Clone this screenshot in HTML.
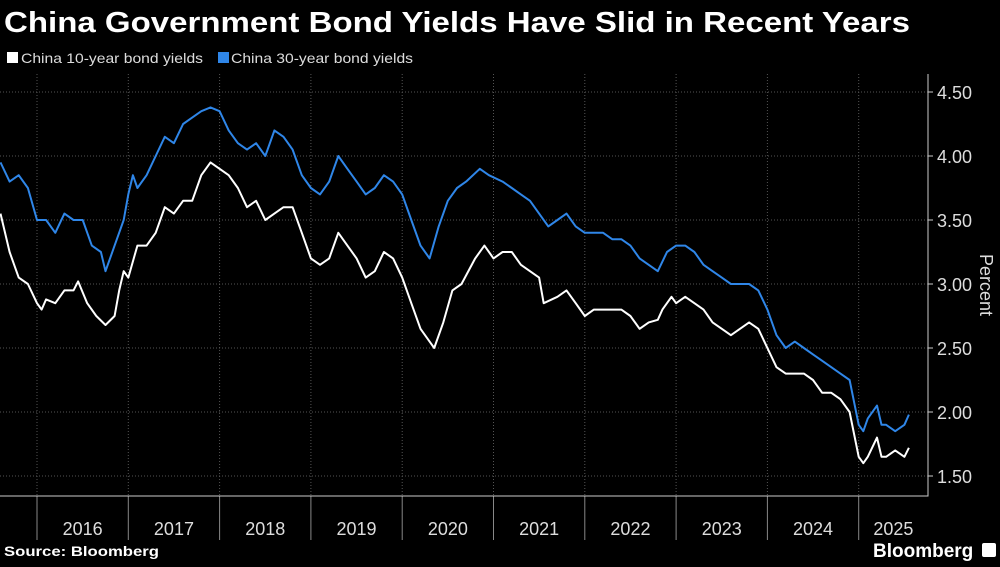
<!DOCTYPE html>
<html><head><meta charset="utf-8"><style>
body{margin:0;background:#000;width:1000px;height:562px;overflow:hidden;font-family:"Liberation Sans",sans-serif;color:#fff}
</style></head><body>
<svg width="1000" height="562">
<text x="4" y="32" font-size="29" font-weight="bold" fill="#fff" textLength="906" lengthAdjust="spacingAndGlyphs">China Government Bond Yields Have Slid in Recent Years</text>
<g>
<rect x="7" y="52" width="11" height="11" fill="#fff"/>
<text x="21" y="63" font-size="14" fill="#ddd" textLength="182" lengthAdjust="spacingAndGlyphs">China 10-year bond yields</text>
<rect x="218" y="52" width="11" height="11" fill="#2f86e8"/>
<text x="231" y="63" font-size="14" fill="#ddd" textLength="182" lengthAdjust="spacingAndGlyphs">China 30-year bond yields</text>
</g>
<g id="grid"></g><g id="axes"></g><g id="series"></g>
<text transform="translate(980,285) rotate(90)" text-anchor="middle" font-size="18" fill="#ddd">Percent</text>
<text x="4" y="556" font-size="14" font-weight="bold" fill="#fff" textLength="155" lengthAdjust="spacingAndGlyphs">Source: Bloomberg</text>
<text x="873" y="557" font-size="19" font-weight="bold" fill="#fff">Bloomberg</text>
<rect x="982" y="543" width="14" height="14" rx="2" fill="#fff"/>
</svg>
<script>
const yTicks=[1.5,2.0,2.5,3.0,3.5,4.0,4.5];
const years=[2016,2017,2018,2019,2020,2021,2022,2023,2024,2025];
const t10=[2015.6,2015.7,2015.8,2015.9,2016.0,2016.05,2016.1,2016.2,2016.3,2016.4,2016.45,2016.55,2016.65,2016.75,2016.85,2016.9,2016.95,2017.0,2017.1,2017.2,2017.3,2017.4,2017.5,2017.6,2017.7,2017.8,2017.9,2018.0,2018.1,2018.2,2018.3,2018.4,2018.5,2018.6,2018.7,2018.8,2018.9,2019.0,2019.1,2019.2,2019.3,2019.4,2019.5,2019.6,2019.7,2019.8,2019.9,2020.0,2020.1,2020.2,2020.3,2020.35,2020.45,2020.55,2020.65,2020.8,2020.9,2021.0,2021.1,2021.2,2021.3,2021.4,2021.5,2021.55,2021.7,2021.8,2021.9,2022.0,2022.1,2022.2,2022.3,2022.4,2022.5,2022.6,2022.7,2022.8,2022.85,2022.95,2023.0,2023.1,2023.2,2023.3,2023.4,2023.5,2023.6,2023.7,2023.8,2023.9,2024.0,2024.1,2024.2,2024.3,2024.4,2024.5,2024.6,2024.7,2024.8,2024.9,2025.0,2025.05,2025.1,2025.2,2025.25,2025.3,2025.4,2025.5,2025.55];
const v10=[3.55,3.25,3.05,3.0,2.85,2.8,2.88,2.85,2.95,2.95,3.02,2.85,2.75,2.68,2.75,2.95,3.1,3.05,3.3,3.3,3.4,3.6,3.55,3.65,3.65,3.85,3.95,3.9,3.85,3.75,3.6,3.65,3.5,3.55,3.6,3.6,3.4,3.2,3.15,3.2,3.4,3.3,3.2,3.05,3.1,3.25,3.2,3.05,2.85,2.65,2.55,2.5,2.7,2.95,3.0,3.2,3.3,3.2,3.25,3.25,3.15,3.1,3.05,2.85,2.9,2.95,2.85,2.75,2.8,2.8,2.8,2.8,2.75,2.65,2.7,2.72,2.8,2.9,2.85,2.9,2.85,2.8,2.7,2.65,2.6,2.65,2.7,2.65,2.5,2.35,2.3,2.3,2.3,2.25,2.15,2.15,2.1,2.0,1.65,1.6,1.65,1.8,1.65,1.65,1.7,1.65,1.72];
const t30=[2015.6,2015.7,2015.8,2015.9,2016.0,2016.1,2016.2,2016.3,2016.4,2016.5,2016.6,2016.7,2016.75,2016.85,2016.95,2017.0,2017.05,2017.1,2017.2,2017.3,2017.4,2017.5,2017.6,2017.7,2017.8,2017.9,2018.0,2018.1,2018.2,2018.3,2018.4,2018.5,2018.6,2018.7,2018.8,2018.9,2019.0,2019.1,2019.2,2019.3,2019.4,2019.5,2019.6,2019.7,2019.8,2019.9,2020.0,2020.1,2020.2,2020.3,2020.4,2020.5,2020.6,2020.7,2020.85,2020.95,2021.1,2021.2,2021.3,2021.4,2021.5,2021.6,2021.7,2021.8,2021.9,2022.0,2022.1,2022.2,2022.3,2022.4,2022.5,2022.6,2022.7,2022.8,2022.9,2023.0,2023.1,2023.2,2023.3,2023.4,2023.5,2023.6,2023.7,2023.8,2023.9,2024.0,2024.1,2024.2,2024.3,2024.4,2024.5,2024.6,2024.7,2024.8,2024.9,2025.0,2025.05,2025.1,2025.2,2025.25,2025.3,2025.4,2025.5,2025.55];
const v30=[3.95,3.8,3.85,3.75,3.5,3.5,3.4,3.55,3.5,3.5,3.3,3.25,3.1,3.3,3.5,3.7,3.85,3.75,3.85,4.0,4.15,4.1,4.25,4.3,4.35,4.38,4.35,4.2,4.1,4.05,4.1,4.0,4.2,4.15,4.05,3.85,3.75,3.7,3.8,4.0,3.9,3.8,3.7,3.75,3.85,3.8,3.7,3.5,3.3,3.2,3.45,3.65,3.75,3.8,3.9,3.85,3.8,3.75,3.7,3.65,3.55,3.45,3.5,3.55,3.45,3.4,3.4,3.4,3.35,3.35,3.3,3.2,3.15,3.1,3.25,3.3,3.3,3.25,3.15,3.1,3.05,3.0,3.0,3.0,2.95,2.8,2.6,2.5,2.55,2.5,2.45,2.4,2.35,2.3,2.25,1.9,1.85,1.95,2.05,1.9,1.9,1.85,1.9,1.98];
const NS="http://www.w3.org/2000/svg";
const X=t=>37+(t-2016)*91.3, Y=v=>476-(v-1.5)*128;
function mk(tag,attrs,parent){const e=document.createElementNS(NS,tag);for(const k in attrs)e.setAttribute(k,attrs[k]);document.getElementById(parent).appendChild(e);return e;}
yTicks.forEach(v=>{
 const g=mk('line',{x1:0,x2:928,y1:Y(v),y2:Y(v),stroke:'#555','stroke-dasharray':'1,2'},'grid');
 
 
 const tk=mk('line',{x1:928,x2:933,y1:Y(v),y2:Y(v),stroke:'#ccc'},'axes');
 
 
 const l=mk('text',{x:937,y:Y(v)+7,'font-size':18,fill:'#ddd'},'axes');l.textContent=v.toFixed(2);
 
 
});
years.forEach((yr,i)=>{
 const x=X(yr);
 const g=mk('line',{x1:x,x2:x,y1:74,y2:496,stroke:'#555','stroke-dasharray':'1,2'},'grid');
 
 
 const d=mk('line',{x1:x,x2:x,y1:496,y2:540,stroke:'#888'},'axes');
 
 
 const nx=Math.min(X(yr+1),928);
 const l=mk('text',{x:(x+nx)/2,y:535,'font-size':18,fill:'#ddd','text-anchor':'middle'},'axes');l.textContent=yr;
 
 
});
const ax=mk('path',{d:'M928,74 V496 H0',stroke:'#ccc',fill:'none'},'axes');


function line(ts,vs,col,name){
 const p=mk('polyline',{points:ts.map((t,i)=>X(t).toFixed(1)+','+Y(vs[i]).toFixed(1)).join(' '),fill:'none',stroke:col,'stroke-width':2,'stroke-linejoin':'round'},'series');
 
 
}
line(t30,v30,'#2f86e8','series-30y');
line(t10,v10,'#ffffff','series-10y');
</script>
</body></html>
